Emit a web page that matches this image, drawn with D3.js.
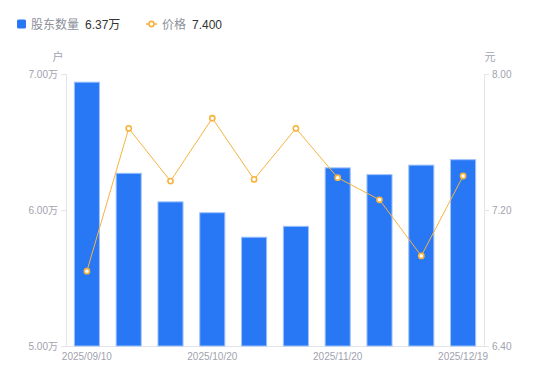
<!DOCTYPE html>
<html>
<head>
  <meta charset='utf-8'>
  <title>股东数量</title>
  <script src="https://cdnjs.cloudflare.com/ajax/libs/d3/7.8.5/d3.min.js"></script>
  <style>
    body { margin: 0; background: #fff; }
    text { font-family: "Liberation Sans", Arial, "Noto Sans CJK SC", sans-serif; }
  </style>
</head>
<body>
  <svg width="550" height="381" id="chart"></svg>
  <script>
    // data
    const dates = ['2025/09/10', '2025/09/19', '2025/09/30', '2025/10/20', '2025/10/31',
                   '2025/11/10', '2025/11/20', '2025/11/28', '2025/12/10', '2025/12/19'];
    const holders = [6.94, 6.27, 6.06, 5.98, 5.80, 5.88, 6.31, 6.26, 6.33, 6.37]; // 万户
    const prices = [6.84, 7.68, 7.37, 7.74, 7.38, 7.68, 7.39, 7.26, 6.93, 7.40];   // 元
    const leftTicks = [5, 6, 7];
    const rightTicks = [6.4, 7.2, 8.0];
    const shownDates = ['2025/09/10', '2025/10/20', '2025/11/20', '2025/12/19'];

    const blue = '#2878f5', orange = '#f7b33e';
    const axisGrey = '#e3e5ea', labelGrey = '#9fa2ae';

    const m = { left: 66, right: 484, top: 74, bottom: 346 };
    const svg = d3.select('#chart');

    const x = d3.scaleBand().domain(dates).range([m.left, m.right]).paddingInner(0.4).paddingOuter(0.2);
    const yL = d3.scaleLinear().domain([5, 7]).range([m.bottom, m.top]);
    const yR = d3.scaleLinear().domain([6.4, 8.0]).range([m.bottom, m.top]);

    // left axis
    const gL = svg.append('g').attr('transform', `translate(${m.left},0)`)
      .call(d3.axisLeft(yL).tickValues(leftTicks).tickSize(5).tickPadding(3)
        .tickFormat(d => d3.format('.2f')(d) + '万'));
    // right axis
    const gR = svg.append('g').attr('transform', `translate(${m.right},0)`)
      .call(d3.axisRight(yR).tickValues(rightTicks).tickSize(5).tickPadding(3)
        .tickFormat(d3.format('.2f')));
    // bottom axis
    const gB = svg.append('g').attr('transform', `translate(0,${m.bottom})`)
      .call(d3.axisBottom(x).tickValues(shownDates).tickSize(0).tickPadding(8));

    [gL, gR, gB].forEach(g => {
      g.select('.domain').attr('stroke', axisGrey);
      g.selectAll('.tick line').attr('stroke', axisGrey);
      g.selectAll('.tick text').attr('fill', labelGrey).style('font-size', '10px')
        .style('font-family', '"Liberation Sans", Arial, "Noto Sans CJK SC", sans-serif');
    });
    gB.selectAll('.tick text').attr('dy', '0.6em');

    // unit labels
    svg.append('text').attr('x', 58).attr('y', 61).attr('text-anchor', 'middle')
      .attr('fill', labelGrey).style('font-size', '11px').text('户');
    svg.append('text').attr('x', 490).attr('y', 61).attr('text-anchor', 'middle')
      .attr('fill', labelGrey).style('font-size', '11px').text('元');

    // bars
    svg.append('g').selectAll('rect')
      .data(holders)
      .join('rect')
      .attr('x', (d, i) => x(dates[i]))
      .attr('width', x.bandwidth())
      .attr('y', d => yL(d))
      .attr('height', d => yL(5) - yL(d))
      .attr('fill', blue)
      .attr('stroke', '#9fc3fb')
      .attr('stroke-width', 1);

    // price line
    const cx = (d, i) => x(dates[i]) + x.bandwidth() / 2;
    const line = d3.line().x(cx).y(d => yR(d));
    svg.append('path').datum(prices)
      .attr('d', line)
      .attr('fill', 'none')
      .attr('stroke', orange)
      .attr('stroke-width', 1);
    svg.append('g').selectAll('circle')
      .data(prices)
      .join('circle')
      .attr('cx', cx)
      .attr('cy', d => yR(d))
      .attr('r', 2.6)
      .attr('fill', '#fff')
      .attr('stroke', orange)
      .attr('stroke-width', 1.6);

    // legend
    const lg = svg.append('g');
    lg.append('rect').attr('x', 17).attr('y', 19.5).attr('width', 9).attr('height', 9).attr('rx', 1.5)
      .attr('fill', blue);
    lg.append('text').attr('x', 31).attr('y', 28.5).attr('fill', '#8d909a').style('font-size', '12px').text('股东数量');
    lg.append('text').attr('x', 85).attr('y', 28.5).attr('fill', '#333').style('font-size', '12px')
      .text(d3.format('.2f')(holders[holders.length - 1]) + '万');

    lg.append('line').attr('x1', 146).attr('x2', 157).attr('y1', 24).attr('y2', 24)
      .attr('stroke', orange).attr('stroke-width', 1.5);
    lg.append('circle').attr('cx', 151.5).attr('cy', 24).attr('r', 2.6)
      .attr('fill', '#fff').attr('stroke', orange).attr('stroke-width', 1.6);
    lg.append('text').attr('x', 162).attr('y', 28.5).attr('fill', '#8d909a').style('font-size', '12px').text('价格');
    lg.append('text').attr('x', 192).attr('y', 28.5).attr('fill', '#333').style('font-size', '12px')
      .text(d3.format('.3f')(prices[prices.length - 1]));
  </script>
</body>
</html>
